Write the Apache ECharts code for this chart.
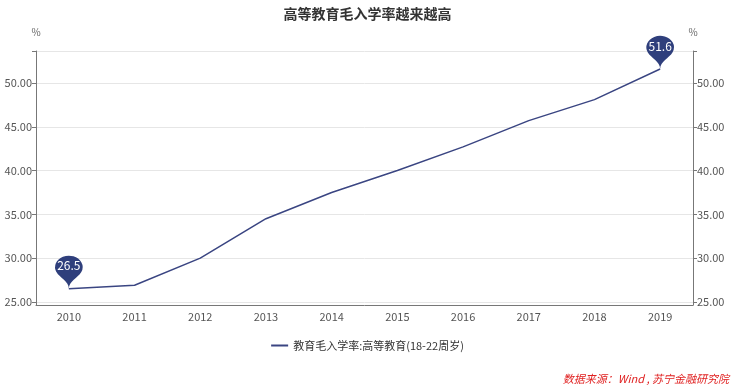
<!DOCTYPE html>
<html><head><meta charset="utf-8">
<script src="https://cdn.jsdelivr.net/npm/echarts@6/dist/echarts.min.js"></script>
<style>html,body{margin:0;padding:0;background:#fff}#c{width:735px;height:386px}</style>
</head><body><div id="c"></div>
<script>
var categories = ['2010','2011','2012','2013','2014','2015','2016','2017','2018','2019'];
var values = [26.5, 26.9, 30.0, 34.5, 37.5, 40.0, 42.7, 45.7, 48.1, 51.6];
var seriesName = '教育毛入学率:高等教育(18-22周岁)';
var titleText = '高等教育毛入学率越来越高';
var sourceText = '数据来源：Wind , 苏宁金融研究院';
var yTicks = [25, 30, 35, 40, 45, 50];
var yMin = 24.65, yMax = 53.65;

var font = '"Noto Sans CJK SC", "Noto Sans", sans-serif';
function yAxisCfg(pos) {
  return {
    type: 'value', position: pos, name: '%', min: yMin, max: yMax,
    nameGap: 14,
    nameTextStyle: { color: '#666', fontSize: 10, fontFamily: font },
    axisLine: { show: true, lineStyle: { color: '#777' } },
    axisTick: { show: true, length: 4, lineStyle: { color: '#777' }, customValues: yTicks.concat([yMax]) },
    axisLabel: { color: '#555', fontSize: 11, fontFamily: font, margin: 4, customValues: yTicks,
      formatter: function (v) { return v.toFixed(2); } },
    splitLine: { show: pos === 'left', lineStyle: { color: '#e6e6e6' } }
  };
}
var chart = echarts.init(document.getElementById('c'), null, { renderer: 'canvas' });
chart.setOption({
  animation: false,
  title: { text: titleText, left: 'center', top: 2, textStyle: { fontSize: 14, fontWeight: 'bold', color: '#333', fontFamily: font } },
  graphic: [{ type: 'text', right: 6, bottom: 2, style: { text: sourceText, fill: '#e02020', font: 'italic 11px ' + font } }],
  legend: { bottom: 30, left: 'center', itemWidth: 17, itemHeight: 2, icon: 'rect', textStyle: { color: '#333', fontSize: 11, fontFamily: font }, data: [seriesName] },
  grid: { left: 36, right: 42, top: 51, bottom: 81 },
  xAxis: {
    type: 'category', data: categories, boundaryGap: true,
    axisLine: { lineStyle: { color: '#777' } },
    axisTick: { alignWithLabel: true, length: 4, lineStyle: { color: '#777' } },
    axisLabel: { color: '#555', fontSize: 11, fontFamily: font, margin: 6 }
  },
  yAxis: [yAxisCfg('left'), yAxisCfg('right')],
  series: [{
    name: seriesName, type: 'line', data: values, yAxisIndex: 0,
    symbol: 'none', lineStyle: { color: '#3a4582', width: 1.5 }, itemStyle: { color: '#3a4582' },
    markPoint: {
      symbol: 'pin', symbolSize: [46, 38],
      itemStyle: { color: '#2f3f7c' },
      label: { color: '#fff', fontSize: 12, fontFamily: font, offset: [0, -3] },
      data: [{ coord: [0, values[0]], value: values[0] }, { coord: [9, values[9]], value: values[9] }]
    }
  }]
});
</script></body></html>
